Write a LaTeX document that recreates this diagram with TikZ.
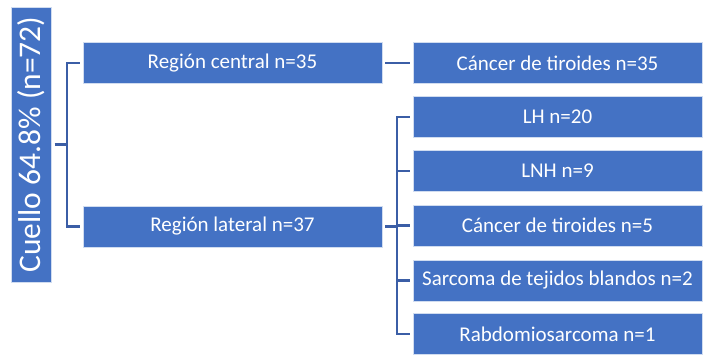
\documentclass[tikz,border=0pt]{standalone}
\usepackage{fontspec}
\setmainfont{Carlito}
\usetikzlibrary{positioning}
\definecolor{boxblue}{HTML}{4472C4}
\definecolor{lineblue}{HTML}{3B5EA6}
\tikzset{
  catbox/.style={fill=boxblue, draw=white!75!boxblue, line width=0.8pt, text=white,
    inner sep=0pt, outer sep=3pt, minimum height=41pt, font=\fontsize{21}{24}\selectfont},
  midbox/.style={catbox, minimum width=299pt},
  leafbox/.style={catbox, minimum width=289pt},
  conn/.style={draw=lineblue, line width=2.2pt}
}
\begin{document}
\begin{tikzpicture}[x=1pt, y=-1pt]
    \useasboundingbox (0,0) rectangle (704,354);

    % root, text runs upwards
    \node[catbox, rotate=90, minimum width=275pt, minimum height=40.7pt,
          font=\fontsize{31.5}{34}\selectfont] (root) at (31.3,144.5) {Cuello 64.8\% (n=72)};

    % regions
    \node[midbox] (central) at (232.5,63) {Región central n=35};
    \node[midbox] (lateral) at (232.5,226.5) {Región lateral n=37};

    % diagnoses
    \node[leafbox] (tiroC) at (557.5,63) {Cáncer de tiroides n=35};
    \node[leafbox] (lh) at (557.5,117) {LH n=20};
    \node[leafbox] (lnh) at (557.5,171) {LNH n=9};
    \node[leafbox] (tiroL) at (557.5,225.5) {Cáncer de tiroides n=5};
    \node[leafbox] (sarc) at (557.5,280.5) {Sarcoma de tejidos blandos n=2};
    \node[leafbox] (rabdo) at (557.5,334) {Rabdomiosarcoma n=1};

    % connectors
    \draw[conn] (root.south) -- ++(12.5,0) coordinate (rootfork) |- (central.west);
    \draw[conn] (rootfork) |- (lateral.west);

    \draw[conn] (central.east) -- (tiroC.west);

    \draw[conn] (lateral.east) -- ++(12,0) coordinate (latfork) |- (lh.west);
    \draw[conn] (latfork) |- (lnh.west);
    \draw[conn] (latfork) |- (tiroL.west);
    \draw[conn] (latfork) |- (sarc.west);
    \draw[conn] (latfork) |- (rabdo.west);
\end{tikzpicture}
\end{document}
